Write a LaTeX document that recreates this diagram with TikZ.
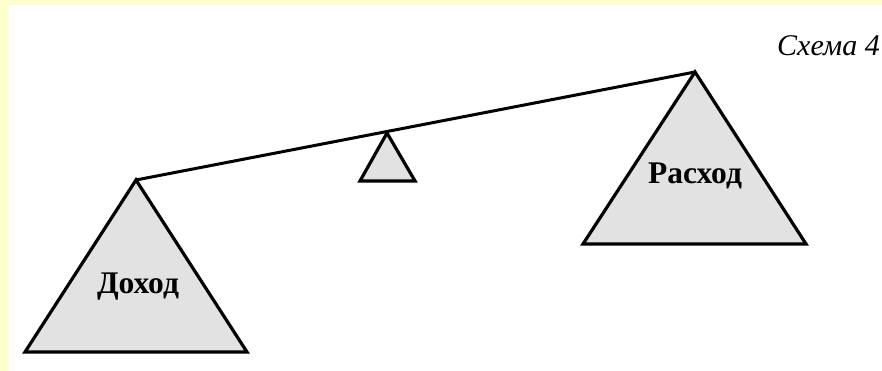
\documentclass[tikz,border=0pt]{standalone}
\usepackage{fontspec}
\setmainfont{Liberation Serif}
\definecolor{pageyellow}{HTML}{FFFFCC}
\definecolor{stipple}{HTML}{E2E2E2}
\tikzset{
  weight/.style={draw=black, fill=stipple, line width=3.2pt, line join=miter},
  beam/.style={draw=black, line width=3pt, line cap=round},
  label/.style={font=\fontsize{31.5}{36}\selectfont\bfseries, inner sep=0pt},
  caption/.style={font=\fontsize{30}{36}\selectfont\itshape, inner sep=0pt, anchor=base west}
}
\begin{document}
\begin{tikzpicture}[x=1pt,y=1pt]
  \useasboundingbox (0,0) rectangle (882,371);
  \clip (0,0) rectangle (882,371);
  \fill[pageyellow] (0,0) rectangle (882,371);
  \fill[white] (9,0) rectangle (882,366);
  % pivot points
  \coordinate (lapex) at (136,191);
  \coordinate (rapex) at (695,299);
  \coordinate (fulcrum) at (387,238);
  % weights
  \draw[weight] (lapex) -- (25,19) -- (247,19) -- cycle;
  \draw[weight] (rapex) -- (583,127) -- (806,127) -- cycle;
  \draw[weight] (fulcrum) -- (360,190) -- (415,190) -- cycle;
  % beam
  \draw[beam] (lapex) -- (rapex);
  % labels
  \node[label] (dohod) at (138,84) {Доход};
  \node[label] (rashod) at (695,195) {Расход};
  \node[caption] (schema) at (777,315) {Схема 4};
\end{tikzpicture}
\end{document}
